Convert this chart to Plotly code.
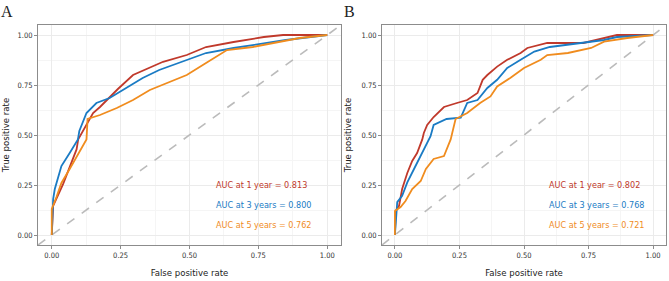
import plotly.graph_objects as go

# ---- Data ----
a_fpr_1y = [0, 0.005, 0.041, 0.09, 0.096, 0.15, 0.175, 0.21, 0.24, 0.295, 0.356, 0.404, 0.49, 0.56, 0.66, 0.77, 0.84, 1.0]
a_tpr_1y = [0, 0.146, 0.254, 0.428, 0.478, 0.61, 0.64, 0.69, 0.73, 0.80, 0.835, 0.866, 0.90, 0.94, 0.965, 0.99, 1.0, 1.0]
a_fpr_3y = [0, 0.005, 0.011, 0.035, 0.065, 0.095, 0.10, 0.126, 0.162, 0.21, 0.27, 0.33, 0.39, 0.49, 0.56, 0.66, 0.78, 0.85, 1.0]
a_tpr_3y = [0, 0.18, 0.23, 0.345, 0.41, 0.478, 0.52, 0.61, 0.66, 0.685, 0.735, 0.785, 0.825, 0.875, 0.91, 0.935, 0.96, 0.975, 1.0]
a_fpr_5y = [0, 0.0, 0.017, 0.035, 0.065, 0.09, 0.126, 0.13, 0.175, 0.236, 0.295, 0.356, 0.418, 0.49, 0.56, 0.636, 0.73, 0.83, 0.90, 1.0]
a_tpr_5y = [0, 0.13, 0.19, 0.26, 0.33, 0.39, 0.478, 0.58, 0.60, 0.635, 0.675, 0.725, 0.76, 0.80, 0.86, 0.925, 0.94, 0.965, 0.985, 1.0]

b_fpr_1y = [0, 0.003, 0.016, 0.028, 0.048, 0.067, 0.086, 0.106, 0.112, 0.125, 0.15, 0.19, 0.24, 0.28, 0.32, 0.34, 0.358, 0.396, 0.435, 0.487, 0.513, 0.59, 0.73, 0.78, 0.86, 1.0]
b_tpr_1y = [0, 0.12, 0.146, 0.23, 0.31, 0.37, 0.41, 0.478, 0.51, 0.55, 0.59, 0.64, 0.66, 0.675, 0.71, 0.776, 0.80, 0.842, 0.876, 0.91, 0.935, 0.96, 0.96, 0.975, 1.0, 1.0]
b_fpr_3y = [0, 0.003, 0.009, 0.028, 0.048, 0.074, 0.10, 0.138, 0.15, 0.20, 0.255, 0.28, 0.32, 0.358, 0.396, 0.435, 0.487, 0.54, 0.60, 0.73, 0.81, 0.86, 1.0]
b_tpr_3y = [0, 0.08, 0.164, 0.196, 0.263, 0.33, 0.395, 0.494, 0.55, 0.58, 0.587, 0.66, 0.675, 0.735, 0.776, 0.835, 0.876, 0.917, 0.94, 0.96, 0.975, 0.99, 1.0]
b_fpr_5y = [0, 0.0, 0.022, 0.041, 0.067, 0.10, 0.12, 0.15, 0.19, 0.216, 0.222, 0.235, 0.28, 0.33, 0.37, 0.396, 0.448, 0.50, 0.565, 0.59, 0.67, 0.76, 0.81, 0.90, 1.0]
b_tpr_5y = [0, 0.12, 0.14, 0.17, 0.23, 0.27, 0.33, 0.38, 0.395, 0.478, 0.51, 0.58, 0.61, 0.66, 0.693, 0.743, 0.786, 0.835, 0.876, 0.90, 0.91, 0.935, 0.967, 0.985, 1.0]

auc_labels_a = ["AUC at 1 year = 0.813", "AUC at 3 years = 0.800", "AUC at 5 years = 0.762"]
auc_labels_b = ["AUC at 1 year = 0.802", "AUC at 3 years = 0.768", "AUC at 5 years = 0.721"]
label_y = [0.25, 0.15, 0.05]
tick_vals = [0, 0.25, 0.5, 0.75, 1.0]
tick_text = ["0.00", "0.25", "0.50", "0.75", "1.00"]
panel_titles = ["A", "B"]

colors = ["#C0392B", "#1A7BC4", "#F08C1E"]
TICKFONT = "DejaVu Sans Condensed, Liberation Sans Narrow, sans-serif"

fig = go.Figure()

panels = [
    ("x", "y", [(a_fpr_1y, a_tpr_1y), (a_fpr_3y, a_tpr_3y), (a_fpr_5y, a_tpr_5y)], auc_labels_a),
    ("x2", "y2", [(b_fpr_1y, b_tpr_1y), (b_fpr_3y, b_tpr_3y), (b_fpr_5y, b_tpr_5y)], auc_labels_b),
]

for xa, ya, curves, labels in panels:
    fig.add_trace(go.Scatter(x=[-0.05, 1.05], y=[-0.05, 1.05], mode="lines",
                             line=dict(color="#BBBBBB", width=1.6, dash="dash"),
                             xaxis=xa, yaxis=ya, showlegend=False, hoverinfo="skip"))
    for (fx, ty), c in zip(curves, colors):
        fig.add_trace(go.Scatter(x=fx, y=ty, mode="lines", line=dict(color=c, width=1.8),
                                 xaxis=xa, yaxis=ya, showlegend=False))
    for lab, ly, c in zip(labels, label_y, colors):
        fig.add_annotation(x=0.59, y=ly, xref=xa, yref=ya, text=lab, showarrow=False,
                           xanchor="left", yanchor="middle",
                           font=dict(family=TICKFONT, size=9, color=c))

axis_common = dict(range=[-0.05, 1.05], tickvals=tick_vals, ticktext=tick_text, automargin=False,
                   showgrid=True, gridcolor="#EBEBEB", gridwidth=1,
                   minor=dict(showgrid=True, gridcolor="#F5F5F5", gridwidth=0.6, tick0=0.125, dtick=0.25),
                   zeroline=False, showline=True, linecolor="#8C8C8C", linewidth=1, mirror=True,
                   ticks="outside", ticklen=3, tickcolor="#8C8C8C", tickwidth=1,
                   tickfont=dict(family=TICKFONT, size=7.5, color="#333333"))

title_font = dict(family=TICKFONT, size=9.5, color="#222222")
ydom = [36 / 281, 256 / 281]
fig.update_layout(
    width=669, height=281, margin=dict(l=0, r=0, t=0, b=0),
    paper_bgcolor="white", plot_bgcolor="white",
    xaxis=dict(domain=[38 / 669, 341 / 669], anchor="y", **axis_common,
               title=dict(text="False positive rate", standoff=10, font=title_font)),
    yaxis=dict(domain=ydom, anchor="x", **axis_common,
               title=dict(text="True positive rate", standoff=8, font=title_font)),
    xaxis2=dict(domain=[382 / 669, 666 / 669], anchor="y2", **axis_common,
                title=dict(text="False positive rate", standoff=10, font=title_font)),
    yaxis2=dict(domain=ydom, anchor="x2", **axis_common,
                title=dict(text="True positive rate", standoff=8, font=title_font)),
)

for t, px in zip(panel_titles, [7, 349]):
    fig.add_annotation(x=px / 669, y=1 - 12 / 281, xref="paper", yref="paper", text=t,
                       showarrow=False, xanchor="center", yanchor="middle",
                       font=dict(family="Liberation Serif, Times New Roman, serif", size=16, color="#222222"))

fig.write_html("out.html", config={"displayModeBar": False},
               post_script="document.body.style.margin='0';document.body.style.overflow='hidden';")
